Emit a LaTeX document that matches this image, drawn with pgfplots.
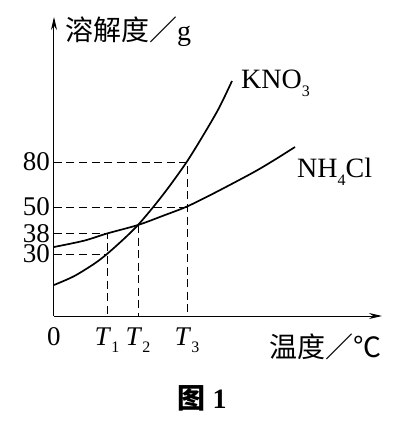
\documentclass[border=0pt]{standalone}
\usepackage{fontspec}
\setmainfont{Liberation Serif}
\newfontfamily\cjk{Noto Sans CJK SC}
\usepackage{pgfplots}
\pgfplotsset{compat=1.18}
\usetikzlibrary{arrows.meta}
\newcommand\sub[1]{\raisebox{-0.28em}{\fontsize{16}{16}\selectfont #1}}
\begin{document}
\begin{tikzpicture}
\fontsize{28}{32}\selectfont
\begin{axis}[
  scale only axis, width=328pt, height=299pt,
  xmin=0, xmax=328, ymin=0, ymax=299,
  axis lines=left,
  axis line style={line width=1pt, -{Stealth[length=13pt,width=6pt]}},
  major tick length=0pt,
  xtick={0,53,84,133}, xticklabels={0,\textit{T}\sub{1},\textit{T}\sub{2},\textit{T}\sub{3}},
  ytick={62,82.5,109,154}, yticklabels={30,38,50,80},
  ticklabel style={font=\fontsize{27}{30}\selectfont},
  yticklabel style={inner ysep=0pt, inner xsep=4pt},
  xticklabel style={yshift=-2pt},
  clip=false,
]
% dashed guide lines
\addplot[line width=0.8pt, dash pattern=on 8pt off 4.5pt] coordinates {(0,154) (133,154) (133,0)};
\addplot[line width=0.8pt, dash pattern=on 8pt off 4.5pt] coordinates {(0,109) (133,109)};
\addplot[line width=0.8pt, dash pattern=on 8pt off 4.5pt] coordinates {(0,82.5) (53,82.5) (53,0)};
\addplot[line width=0.8pt, dash pattern=on 8pt off 4.5pt] coordinates {(0,62) (53,62)};
\addplot[line width=0.8pt, dash pattern=on 8pt off 4.5pt] coordinates {(84,91) (84,0)};
% KNO3
\addplot[line width=1.7pt, smooth] coordinates {(0,31) (20,39.8) (40,52.1) (53,62) (70,77.2) (84,91) (100,109.9) (115,129.2) (133,154.5) (150,182) (165,208) (178,235)};
% NH4Cl
\addplot[line width=1.7pt, smooth] coordinates {(0,69) (30,75.3) (53,82.5) (84,91) (110,100.6) (133,109.5) (160,122.8) (199,143.4) (220,155.8) (241,169)};
\node[anchor=west, inner sep=0pt] at (axis cs:187,233) {KNO\sub{3}};
\node[anchor=west, inner sep=0pt] at (axis cs:243,144) {NH\sub{4}Cl};
\node[anchor=west, inner sep=0pt] at (axis cs:11,284) {{\cjk 溶解度／}g};
\node[inner sep=0pt] at (axis cs:271,-31) {\cjk 温度／℃};
\node[inner sep=0pt] at (axis cs:148,-82) {{\cjk\bfseries 图} \textbf{1}};
\path (axis cs:-54,-107) rectangle (axis cs:345,316);
\end{axis}
\end{tikzpicture}
\end{document}
